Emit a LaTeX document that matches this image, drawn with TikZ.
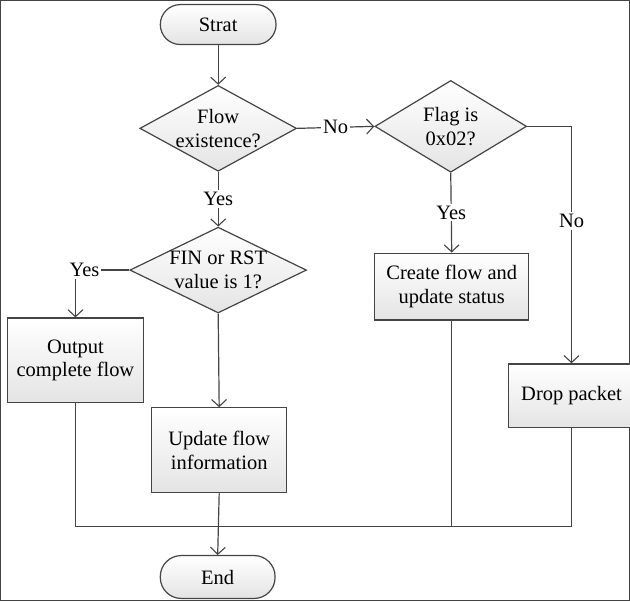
\documentclass[tikz,border=0pt]{standalone}
\usepackage{fontspec}
\setmainfont{Liberation Serif}
\usetikzlibrary{shapes.geometric,arrows.meta}
\definecolor{ln}{HTML}{444444}
\definecolor{fillbot}{HTML}{E4E4E4}
\begin{document}
\begin{tikzpicture}[x=1pt,y=-1pt,
  font=\fontsize{20.5}{24}\selectfont,
  line width=1.2pt,
  every path/.style={draw=ln},
  arr/.style={-{Straight Barb[length=7pt,width=15pt,line width=1.1pt]}},
  term/.style={draw=ln,rounded corners=20pt,top color=white,bottom color=fillbot,inner sep=0pt,align=center},
  box/.style={draw=ln,rectangle,top color=white,bottom color=fillbot,inner sep=0pt,align=center},
  dia/.style={draw=ln,diamond,top color=white,bottom color=fillbot,inner sep=0pt},
  lab/.style={fill=white,inner sep=2pt,text=black},
  txt/.style={align=center,text=black}]
\useasboundingbox (0,0) rectangle (630,601);

\node[term,minimum width=116pt,minimum height=40pt] (start) at (218,24) {Strat};
\node[dia,minimum width=157pt,minimum height=86pt] (d1) at (218,128) {};
\node[txt] at (d1.center) {Flow\\existence?};
\node[dia,minimum width=152pt,minimum height=92pt] (d2) at (451,126) {};
\node[txt] at (d2.center) {Flag is\\0x02?};
\node[dia,minimum width=177pt,minimum height=86pt] (d3) at (218,270) {};
\node[txt] at (d3.center) {FIN or RST\\value is 1?};
\node[box,minimum width=136pt,minimum height=85pt] (out) at (75,360.5) {Output\\complete flow};
\node[box,minimum width=135pt,minimum height=85pt] (upd) at (219,450.5) {Update flow\\information};
\node[box,minimum width=154pt,minimum height=67pt] (create) at (452,286.5) {Create flow and\\update status};
\node[box,minimum width=126pt,minimum height=64pt] (drop) at (572,396) {Drop packet};
\node[term,minimum width=115pt,minimum height=43pt,rounded corners=21pt] (end) at (217.5,577.5) {End};

\coordinate (bl) at (75,527);
\coordinate (br) at (572,527);

\draw[arr] (start.south) -- (d1.north);
\draw[arr] (d1.east) -- node[lab] {No} (d2.west);
\draw[arr] (d2.south) -- node[lab] {Yes} (create.north);
\draw[arr] (d2.east) -| node[lab,pos=0.70] {No} (drop.north);
\draw[arr] (d1.south) -- node[lab] {Yes} (d3.north);
\draw[arr] (d3.west) -| node[lab,pos=0.5,xshift=9pt] {Yes} (out.north);
\draw[arr] (d3.south) -- (upd.north);
\draw (out.south) -- (bl) -- (br) -- (drop.south);
\draw (create.south) -- (create.south |- bl);
\draw[arr] (upd.south) -- (end.north);
\end{tikzpicture}
\end{document}
